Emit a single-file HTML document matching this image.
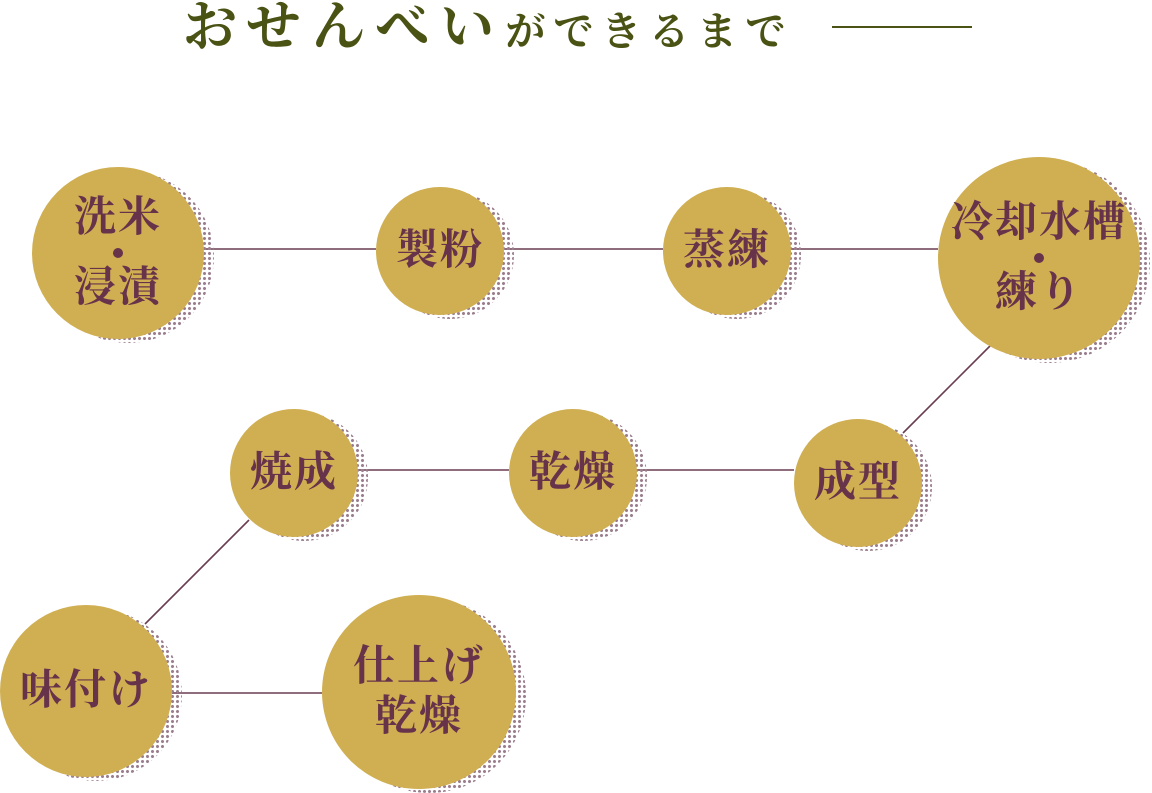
<!DOCTYPE html>
<html><head><meta charset="utf-8"><style>
body{margin:0;width:1152px;height:793px;background:#fff;position:relative;overflow:hidden;font-family:"Liberation Serif","Noto Serif CJK SC",serif}
.t{position:absolute;left:183px;top:-6px;color:#4a5214;font-weight:bold;white-space:nowrap;font-family:"Liberation Serif","Noto Serif CJK JP","Noto Serif CJK SC",serif}
.c{position:absolute;border-radius:50%;background:#d0af52;display:flex;flex-direction:column;align-items:center;justify-content:center;color:#66334a;font-weight:bold;font-size:42px;letter-spacing:2px;line-height:42px;text-align:center}
.s{position:absolute;border-radius:50%;background:radial-gradient(circle,#9c7f8e 1.3px,transparent 1.8px) 0 0/5px 5px}
.dot{width:10px;height:10px;border-radius:50%;background:#66334a;margin:9px 0}
</style></head><body>
<div class="t"><span style="font-size:54px;line-height:66px;letter-spacing:11px">おせんべい</span><span style="font-size:40px;letter-spacing:8px">ができるまで</span></div>
<div style="position:absolute;left:832px;top:26px;width:140px;height:2px;background:#4a5214"></div>
<svg width="1152" height="793" style="position:absolute;left:0;top:0">
<g stroke="#6b3d50" stroke-width="1.6">
<line x1="204" y1="249" x2="376" y2="249"/><line x1="504" y1="249" x2="663" y2="249"/><line x1="791" y1="249" x2="938" y2="249"/>
<line x1="990" y1="346" x2="903" y2="433"/><line x1="358" y1="470" x2="509" y2="470"/><line x1="637" y1="470" x2="794" y2="470"/>
<line x1="249" y1="520" x2="145" y2="624"/><line x1="172" y1="693" x2="322" y2="693"/></g></svg>
<div class="s" style="left:42px;top:171px;width:172px;height:172px"></div>
<div class="s" style="left:386px;top:191px;width:128px;height:128px"></div>
<div class="s" style="left:673px;top:191px;width:128px;height:128px"></div>
<div class="s" style="left:948px;top:161px;width:202px;height:202px"></div>
<div class="s" style="left:240px;top:413px;width:128px;height:128px"></div>
<div class="s" style="left:519px;top:413px;width:128px;height:128px"></div>
<div class="s" style="left:804px;top:423px;width:128px;height:128px"></div>
<div class="s" style="left:10px;top:609px;width:172px;height:172px"></div>
<div class="s" style="left:332px;top:599px;width:194px;height:194px"></div>
<div class="c" style="left:32px;top:167px;width:172px;height:172px"><div>洗米</div><div class="dot"></div><div>浸漬</div></div>
<div class="c" style="left:376px;top:187px;width:128px;height:128px">製粉</div>
<div class="c" style="left:663px;top:187px;width:128px;height:128px">蒸練</div>
<div class="c" style="left:938px;top:157px;width:202px;height:202px"><div>冷却水槽</div><div class="dot"></div><div>練り</div></div>
<div class="c" style="left:230px;top:409px;width:128px;height:128px">焼成</div>
<div class="c" style="left:509px;top:409px;width:128px;height:128px">乾燥</div>
<div class="c" style="left:794px;top:419px;width:128px;height:128px">成型</div>
<div class="c" style="left:0px;top:605px;width:172px;height:172px">味付け</div>
<div class="c" style="left:322px;top:595px;width:194px;height:194px;line-height:50px"><div>仕上げ</div><div>乾燥</div></div>
</body></html>
